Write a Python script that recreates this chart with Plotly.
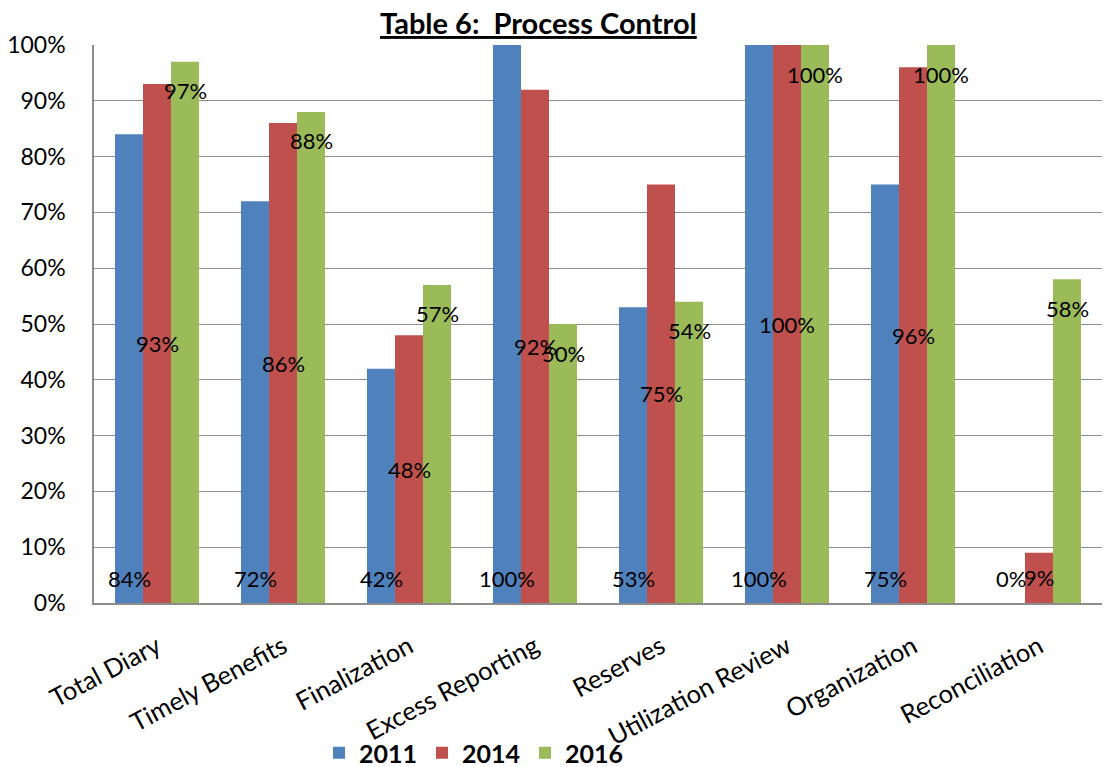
import plotly.graph_objects as go

categories = ["Total Diary", "Timely Benefits", "Finalization", "Excess Reporting",
              "Reserves", "Utilization Review", "Organization", "Reconciliation"]
years = ["2011", "2014", "2016"]
v2011 = [0.84, 0.72, 0.42, 1.00, 0.53, 1.00, 0.75, 0.00]
v2014 = [0.93, 0.86, 0.48, 0.92, 0.75, 1.00, 0.96, 0.09]
v2016 = [0.97, 0.88, 0.57, 0.50, 0.54, 1.00, 1.00, 0.58]
colors = ["#4F81BD", "#C0504D", "#9BBB59"]

FONT = "Lato"
series = [v2011, v2014, v2016]

fig = go.Figure()
for name, vals, col in zip(years, series, colors):
    fig.add_trace(go.Bar(x=categories, y=vals, name=name, marker_color=col,
                         marker_line_width=0))

annotations = []
# data labels: 2011 at base, 2014 in middle, 2016 at inside end
shifts = [-28, 0, 28]
for i, (vals, xs) in enumerate(zip(series, shifts)):
    for c, v in zip(categories, vals):
        if i == 0:
            y, ys = 0, 25
        elif i == 1:
            y, ys = v / 2, 0
        else:
            y, ys = v, -29
        annotations.append(dict(x=c, y=y, xref="x", yref="y", text=f"{round(v*100)}%",
                                showarrow=False, xshift=xs, yshift=ys,
                                font=dict(family=FONT, size=22, color="black")))

annotations.append(dict(x=(538 - 94) / 1008, y=1.0, xref="paper", yref="paper",
                        yshift=23, yanchor="middle",
                        text="<b><u>Table 6:  Process Control</u></b>",
                        showarrow=False, font=dict(family=FONT, size=29, color="black")))

fig.update_layout(
    width=1104, height=767,
    margin=dict(l=94, r=2, t=45, b=164, autoexpand=False),
    paper_bgcolor="white", plot_bgcolor="white",
    barmode="group", bargap=0.333, bargroupgap=0,
    font=dict(family=FONT, color="black"),
    annotations=annotations,
    showlegend=True,
    legend=dict(orientation="h", x=(474 - 94) / 1008, xanchor="center",
                y=(603 - 753) / 558, yanchor="middle", bgcolor="rgba(0,0,0,0)",
                font=dict(family=FONT, size=25, color="black", weight="bold"),
                itemwidth=30),
    yaxis=dict(range=[0, 1], dtick=0.1, tickformat=".0%", showgrid=True,
               gridcolor="#8C8C8C", gridwidth=1, showline=True, linecolor="#8C8C8C",
               linewidth=1.5, ticks="", ticklen=0, automargin=False,
               ticklabelstandoff=22,
               tickfont=dict(family=FONT, size=23, color="black"), zeroline=False),
    xaxis=dict(showline=True, linecolor="#8C8C8C", linewidth=2, tickangle=-28,
               ticks="", automargin=False, ticklabelstandoff=17,
               tickfont=dict(family=FONT, size=25.5, color="black")),
)

fig.write_html("out.html")
